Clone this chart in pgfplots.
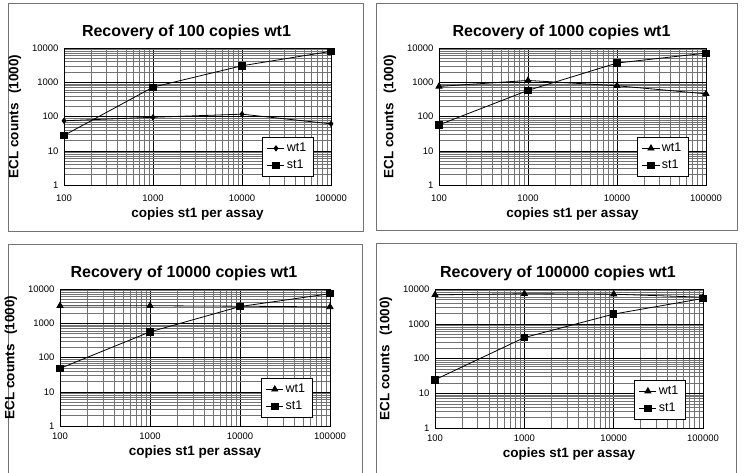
\documentclass[border=0pt]{standalone}
\usepackage{fontspec}
\setmainfont{Liberation Sans}
\usepackage{pgfplots}
\pgfplotsset{compat=1.18}

\pgfplotsset{
  recovery panel/.style={
    scale only axis, width=267pt, height=137pt,
    xmin=100, xmax=100000, ymin=1, ymax=10000,
    xtick={100,1000,10000,100000}, xticklabels={100,1000,10000,100000},
    ytick={1,10,100,1000,10000}, yticklabels={1,10,100,1000,10000},
    grid=both,
    major grid style={black, line width=0.5pt},
    minor grid style={black!55, line width=0.4pt},
    axis line style={black, line width=0.8pt},
    major tick length=0pt, minor tick length=0pt,
    tick label style={font=\fontsize{9.5}{11}\selectfont},
    xticklabel style={yshift=-6pt},
    yticklabel style={xshift=-2pt},
    xlabel={copies st1 per assay},
    ylabel={ECL counts\hspace{0.45em} (1000)},
    ylabel shift=4pt,
    label style={font=\bfseries\fontsize{13.5}{15}\selectfont},
    title style={font=\bfseries\fontsize{16}{18}\selectfont, xshift=-11pt, yshift=-1pt},
    legend style={at={(0.935,0.06)}, anchor=south east, draw=black,
      fill=white, line width=0.6pt, font=\fontsize{12.5}{14}\selectfont,
      inner xsep=5pt, inner ysep=4pt, row sep=3pt},
    legend cell align=left,
    clip=false,
  },
  lower panel/.style={xticklabel style={yshift=3pt}},
}
\tikzset{
  wtmark/.style={black, line width=0.8pt, mark=triangle*, mark size=3.5pt},
  stmark/.style={black, line width=0.8pt, mark=square*, mark size=3.2pt},
  dimark/.style={black, line width=0.8pt, mark=diamond*, mark size=2.6pt},
}

\begin{document}
\begin{tikzpicture}
\useasboundingbox (0,0) rectangle (746pt,-472pt);

% panel frames
\draw[black!55, line width=0.6pt] (8pt,-3pt) rectangle (363pt,-231pt);
\draw[black!55, line width=0.6pt] (376pt,-3pt) rectangle (737pt,-230pt);
\draw[black!55, line width=0.6pt] (8pt,-480pt) -- (8pt,-244pt) -- (362pt,-244pt) -- (362pt,-480pt);
\draw[black!55, line width=0.6pt] (376pt,-480pt) -- (376pt,-243pt) -- (736pt,-243pt) -- (736pt,-480pt);

% 100 copies wt1
\begin{loglogaxis}[recovery panel, at={(64pt,-48pt)}, anchor=north west,
  title={Recovery of 100 copies wt1}]
\addplot[dimark] coordinates {(100,75) (1000,95) (10000,117) (100000,61)};
\addlegendentry{wt1}
\addplot[stmark] coordinates {(100,28) (1000,720) (10000,3030) (100000,8000)};
\addlegendentry{st1}
\end{loglogaxis}

% 1000 copies wt1
\begin{loglogaxis}[recovery panel, at={(439pt,-48pt)}, anchor=north west,
  title={Recovery of 1000 copies wt1}]
\addplot[wtmark] coordinates {(100,755) (1000,1130) (10000,790) (100000,460)};
\addlegendentry{wt1}
\addplot[stmark] coordinates {(100,57) (1000,580) (10000,3640) (100000,7100)};
\addlegendentry{st1}
\end{loglogaxis}

% 10000 copies wt1
\begin{loglogaxis}[recovery panel, lower panel, width=270pt, at={(60pt,-289pt)}, anchor=north west,
  title={Recovery of 10000 copies wt1}]
\addplot[wtmark] coordinates {(100,3250) (1000,3250) (10000,3150) (100000,3000)};
\addlegendentry{wt1}
\addplot[stmark] coordinates {(100,48) (1000,560) (10000,3080) (100000,7300)};
\addlegendentry{st1}
\end{loglogaxis}

% 100000 copies wt1
\begin{loglogaxis}[recovery panel, lower panel, width=268pt, height=139pt, at={(435pt,-289pt)}, anchor=north west,
  title={Recovery of 100000 copies wt1}]
\addplot[wtmark] coordinates {(100,6800) (1000,7300) (10000,7100) (100000,5800)};
\addlegendentry{wt1}
\addplot[stmark] coordinates {(100,24.5) (1000,400) (10000,1900) (100000,5350)};
\addlegendentry{st1}
\end{loglogaxis}
\end{tikzpicture}
\end{document}
